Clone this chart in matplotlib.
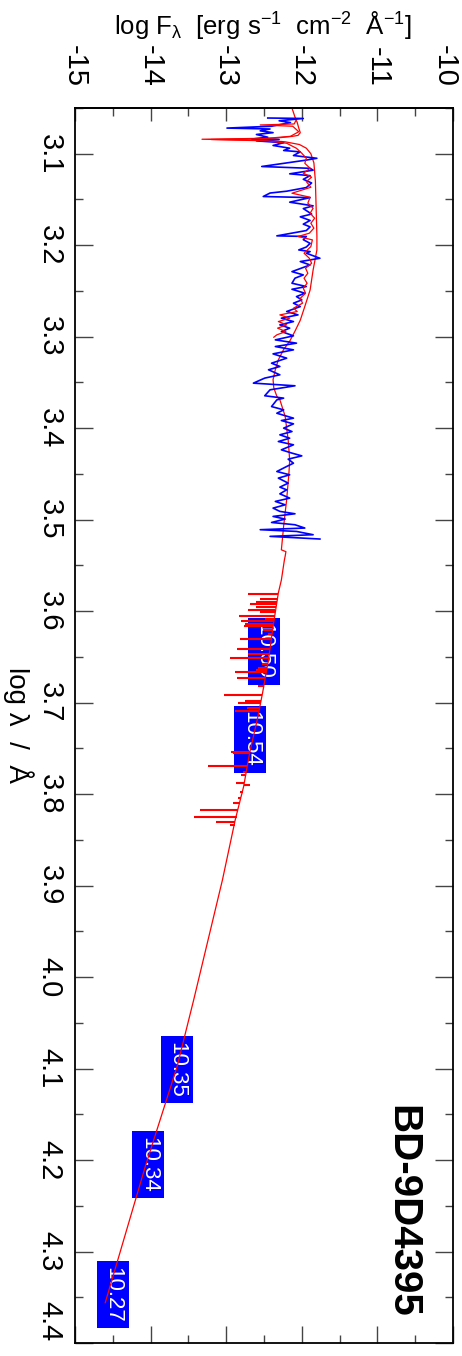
import matplotlib
matplotlib.use("Agg")
import matplotlib.pyplot as plt
from matplotlib.ticker import MultipleLocator

plt.rcParams['font.family'] = ['Liberation Sans', 'DejaVu Sans']
plt.rcParams['mathtext.fontset'] = 'custom'
plt.rcParams['mathtext.rm'] = 'Liberation Sans'
plt.rcParams['mathtext.it'] = 'Liberation Sans'
plt.rcParams['mathtext.default'] = 'regular'

# smooth model SED (log lambda, log F_lambda)
model_wave = [3.050, 3.060, 3.066, 3.072, 3.077, 3.080, 3.081, 3.083, 3.0842, 3.0855,
              3.087, 3.090, 3.094, 3.100, 3.110, 3.130, 3.160, 3.190, 3.2052, 3.227,
              3.249, 3.267, 3.282, 3.294, 3.305, 3.314, 3.3253, 3.336, 3.347, 3.356,
              3.3652, 3.369, 3.387, 3.413, 3.435, 3.449, 3.478, 3.507, 3.533, 3.535,
              3.540, 3.544, 3.566, 3.580, 3.617, 3.653, 3.690, 3.719, 3.755, 3.792,
              3.828, 3.894, 4.025, 4.098, 4.207, 4.356]
model_flux = [-12.13, -12.09, -12.06, -12.04, -12.02, -12.05, -12.12, -12.35, -13.32, -12.45,
              -12.22, -12.03, -11.94, -11.88, -11.84, -11.82, -11.81, -11.80, -11.80, -11.85,
              -11.89, -11.96, -12.02, -12.09, -12.16, -12.24, -12.31, -12.35, -12.38, -12.37,
              -12.33, -12.29, -12.22, -12.18, -12.16, -12.17, -12.20, -12.24, -12.27, -12.21,
              -12.22, -12.23, -12.27, -12.31, -12.38, -12.44, -12.52, -12.59, -12.69, -12.77,
              -12.88, -13.05, -13.43, -13.65, -14.07, -14.60]

# model with lines in the UV
uvmod_wave = [3.064, 3.0675, 3.0686, 3.070, 3.076, 3.081, 3.0835, 3.0845, 3.086, 3.0886,
              3.0941, 3.0995, 3.105, 3.1105, 3.116, 3.1214, 3.1257, 3.1305, 3.1367, 3.1432,
              3.1476, 3.1541, 3.1596, 3.1651, 3.1705, 3.176, 3.1814, 3.1869, 3.1905, 3.1942,
              3.2015, 3.2088, 3.2143, 3.2198, 3.2252, 3.2307, 3.2361, 3.2416, 3.2471, 3.2525,
              3.258, 3.2634, 3.2689, 3.2725, 3.2762, 3.2798, 3.2835, 3.2871, 3.2907, 3.2944,
              3.2980, 3.3006]
uvmod_flux = [-12.08, -12.10, -12.55, -12.12, -12.04, -12.15, -12.50, -13.20, -12.45, -12.20,
              -12.07, -12.00, -11.94, -11.96, -11.89, -11.98, -11.87, -11.94, -11.88, -12.13,
              -11.89, -11.92, -11.85, -11.89, -11.83, -11.88, -11.84, -11.90, -12.05, -11.86,
              -11.88, -11.97, -11.90, -11.87, -11.95, -11.92, -11.97, -11.93, -11.98, -11.95,
              -12.02, -11.99, -12.11, -12.06, -12.29, -12.16, -12.31, -12.20, -12.32, -12.21,
              -12.33, -12.37]

# observed UV spectrum
uv_wave = [3.061, 3.0615, 3.064, 3.066, 3.070, 3.072, 3.073, 3.075, 3.077, 3.079,
           3.082, 3.084, 3.0845, 3.086, 3.088, 3.091, 3.094, 3.0965, 3.098, 3.102,
           3.105, 3.107, 3.114, 3.116, 3.118, 3.122, 3.124, 3.128, 3.132, 3.137,
           3.141, 3.143, 3.1468, 3.148, 3.153, 3.157, 3.160, 3.166, 3.169, 3.173,
           3.177, 3.180, 3.184, 3.1898, 3.1905, 3.194, 3.198, 3.202,
           3.2052, 3.207, 3.2088, 3.2143, 3.2179, 3.2216, 3.2289, 3.2325, 3.2361, 3.2416,
           3.2452, 3.2482, 3.2525, 3.2562, 3.2598, 3.2634, 3.2671, 3.2725, 3.2762, 3.2798,
           3.2835, 3.2871, 3.2907, 3.2944, 3.2991, 3.3035, 3.3071, 3.3108, 3.3144, 3.3188,
           3.3235, 3.329, 3.3326, 3.3362, 3.3417, 3.3453, 3.3508, 3.3537, 3.3581, 3.3646,
           3.3672, 3.3691, 3.3764, 3.380, 3.3837, 3.3891, 3.3917, 3.3953, 3.400, 3.4037,
           3.4073, 3.411, 3.4146, 3.4182, 3.4237, 3.4273, 3.4303, 3.4339, 3.4383, 3.4419,
           3.4474, 3.451, 3.4546, 3.4601, 3.4645, 3.4674, 3.4718, 3.4765, 3.4801, 3.4838,
           3.4874, 3.491, 3.4936, 3.4965, 3.4994, 3.5031, 3.5056, 3.5092, 3.511, 3.5129,
           3.5165, 3.5183, 3.5212]
uv_flux = [-12.45, -11.98, -12.30, -12.15, -12.40, -12.99, -12.42, -12.55, -12.38, -12.60,
           -12.45, -12.66, -12.30, -12.60, -12.24, -12.38, -12.16, -12.24, -12.02, -12.11,
           -11.80, -11.94, -12.53, -11.89, -11.85, -12.16, -11.89, -11.98, -11.87, -11.94,
           -12.20, -12.42, -12.51, -11.89, -12.16, -11.85, -11.98, -11.87, -12.02, -11.89,
           -11.98, -11.89, -11.94, -12.33, -11.94, -11.98, -11.89, -11.94,
           -12.04, -11.89, -11.94, -11.76, -12.02, -11.89, -12.13, -11.98, -12.09, -12.13,
           -11.94, -12.13, -11.96, -12.07, -12.00, -12.11, -12.02, -12.20, -12.05, -12.27,
           -12.11, -12.29, -12.16, -12.27, -12.11, -12.35, -12.07, -12.35, -12.11, -12.38,
           -12.20, -12.40, -12.29, -12.44, -12.29, -12.49, -12.64, -12.09, -12.42, -12.49,
           -12.24, -12.33, -12.40, -12.24, -12.33, -12.11, -12.27, -12.11, -12.24, -12.13,
           -12.29, -12.16, -12.31, -12.11, -12.27, -12.13, -12.00, -12.18, -12.11, -12.20,
           -12.33, -12.16, -12.31, -12.18, -12.29, -12.20, -12.29, -12.16, -12.35, -12.22,
           -12.38, -12.29, -12.09, -12.38, -12.22, -12.40, -12.09, -11.96, -12.55, -12.07,
           -11.85, -12.42, -11.76]

# optical spectrum: narrow features (log lambda, tip, base on continuum)
opt_wave = [3.5811, 3.5870, 3.5895, 3.5920, 3.5950, 3.5986, 3.6015, 3.6052, 3.6088, 3.6113,
            3.6139, 3.6168, 3.6204, 3.6250, 3.6303, 3.6416, 3.6470, 3.6507, 3.6580, 3.6623,
            3.6641, 3.6670, 3.6732, 3.6816, 3.6921, 3.6987, 3.7005, 3.7060, 3.7096, 3.7535,
            3.7553, 3.7688, 3.7760, 3.7790, 3.7880, 3.7899, 3.7972, 3.8040, 3.8099, 3.8179,
            3.8248, 3.8310, 3.8336]
opt_tip = [-12.71, -12.55, -12.60, -12.69, -12.60, -12.71, -12.55, -12.83, -12.49, -12.80,
           -12.75, -12.77, -12.51, -12.45, -12.82, -12.86, -12.71, -12.95, -12.52, -12.58,
           -12.60, -12.88, -12.86, -12.58, -13.03, -12.75, -12.84, -12.73, -12.88, -12.93,
           -12.91, -13.24, -12.78, -12.80, -12.87, -12.69, -12.82, -12.84, -12.91, -13.34,
           -13.43, -13.13, -12.95]
opt_base = [-12.31, -12.32, -12.33, -12.33, -12.34, -12.35, -12.35, -12.36, -12.37, -12.37,
            -12.38, -12.38, -12.39, -12.39, -12.40, -12.42, -12.43, -12.44, -12.45, -12.46,
            -12.46, -12.47, -12.48, -12.50, -12.52, -12.54, -12.54, -12.56, -12.57, -12.69,
            -12.69, -12.72, -12.74, -12.75, -12.76, -12.77, -12.78, -12.80, -12.82, -12.84,
            -12.86, -12.88, -12.89]

# photometry labels
phot_flux = [-12.50, -12.68, -13.65, -14.03, -14.50]
phot_wave = [3.644, 3.740, 4.101, 4.205, 4.347]
phot_text = ['10.50', '10.54', '10.35', '10.34', '10.27']

x_ticks = [-15, -14, -13, -12, -11, -10]
x_labels = ['-15', '-14', '-13', '-12', '-11', '']
y_ticks = [3.1, 3.2, 3.3, 3.4, 3.5, 3.6, 3.7, 3.8, 3.9, 4.0, 4.1, 4.2, 4.3, 4.4]
y_labels = ['3.1', '3.2', '3.3', '3.4', '3.5', '3.6', '3.7', '3.8', '3.9', '4.0',
            '4.1', '4.2', '4.3', '']

fig = plt.figure(figsize=(4.62, 13.56), dpi=100)
ax = fig.add_axes([0.1623, 0.00959, 0.8182, 0.9108])

for f, w, t in zip(phot_flux, phot_wave, phot_text):
    ax.text(f, w, t, rotation=-90, ha='center', va='center', color='white',
            fontsize=16, zorder=1,
            bbox=dict(boxstyle='square,pad=0.25', fc='#0000ff', ec='none'))

ax.plot(model_flux, model_wave, color='#ff0000', lw=0.9, zorder=2)
ax.plot(uv_flux, uv_wave, color='#0000ff', lw=1.2, zorder=3)
ax.plot(uvmod_flux, uvmod_wave, color='#ff0000', lw=0.9, zorder=4)
ax.hlines(opt_wave, opt_tip, opt_base, color='#ff0000', lw=1.5, zorder=4)

ax.set_xlim(-15, -10)
ax.set_ylim(4.40, 3.05)

ax.set_xticks(x_ticks)
ax.set_xticklabels([])
ax.xaxis.set_minor_locator(MultipleLocator(0.5))
ax.tick_params(axis='x', which='both', direction='in', top=False, bottom=True,
               labelbottom=False, color='#444444', width=1)
ax.tick_params(axis='x', which='major', length=12.5)
ax.tick_params(axis='x', which='minor', length=6)

ax.set_yticks(y_ticks, y_labels, rotation=-90, va='center')
ax.yaxis.set_minor_locator(MultipleLocator(0.05))
ax.tick_params(axis='y', which='both', direction='in', left=True, right=True,
               color='#444444', width=1, labelsize=21, pad=8)
ax.tick_params(axis='y', which='major', length=13)
ax.tick_params(axis='y', which='minor', length=6)

top = ax.secondary_xaxis('top')
top.set_xticks(x_ticks, x_labels, rotation=-90)
top.xaxis.set_minor_locator(MultipleLocator(0.5))
top.tick_params(axis='x', which='both', direction='in', color='#444444', width=1,
                labelsize=21, pad=15)
top.tick_params(axis='x', which='major', length=9.5)
top.tick_params(axis='x', which='minor', length=6)

# end labels pulled inside the figure, as in the original
ax.text(0.978, 1.0 + 15 / 72 * 100 / 1235, '-10', transform=ax.transAxes, rotation=-90,
        ha='center', va='bottom', fontsize=21)
ax.text(-8 / 72 * 100 / 378, 0.018, '4.4', transform=ax.transAxes, rotation=-90,
        ha='right', va='center', fontsize=21)

for s in ax.spines.values():
    s.set_linewidth(1.3)
top.spines['top'].set_linewidth(1.3)

fig.text(0.570, 0.9816, r'log F$_{\lambda}$  [erg s$^{-1}$  cm$^{-2}$  Å$^{-1}$]',
         ha='center', va='center', fontsize=18.5)
fig.text(0.039, 0.4653, 'log λ  /  Å', rotation=-90, ha='center', va='center', fontsize=20)
fig.text(0.870, 0.107, 'BD-9D4395', rotation=-90, ha='center', va='center',
         fontsize=29, fontweight='bold')

fig.savefig('out.png', dpi=100)
